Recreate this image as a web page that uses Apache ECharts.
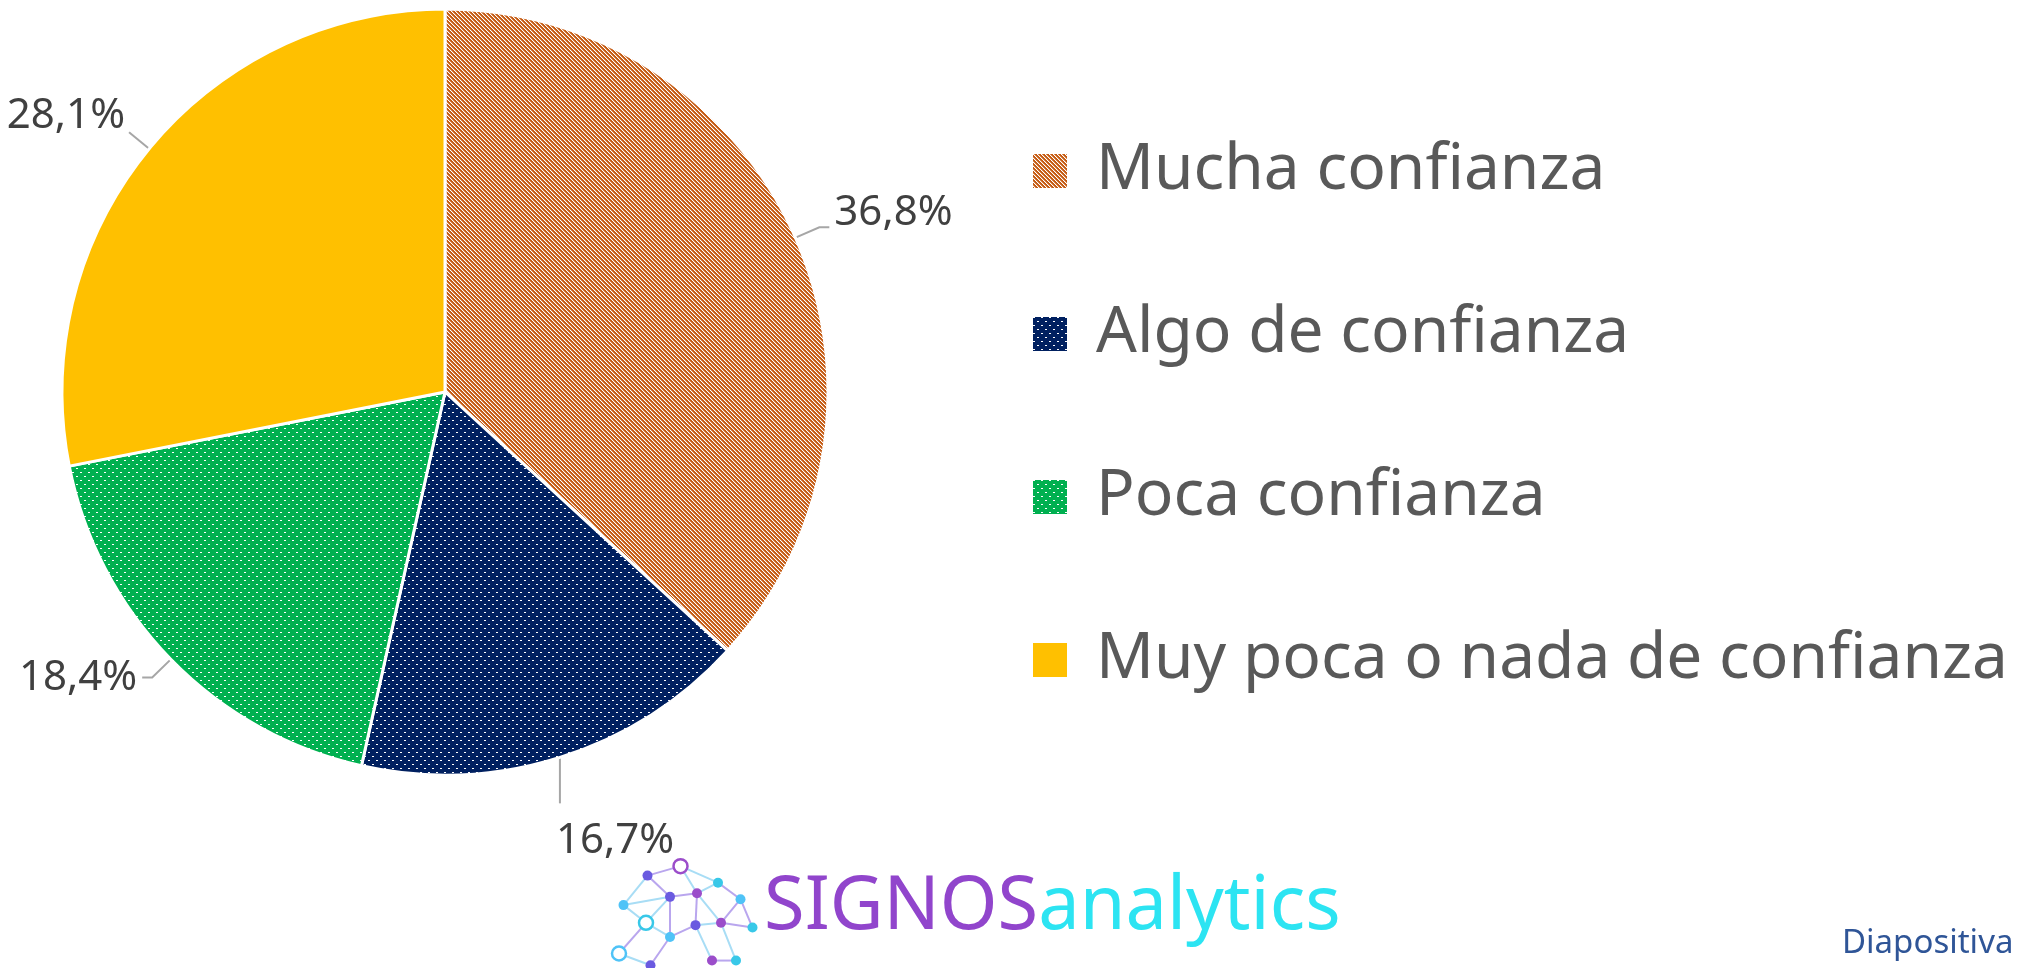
<!DOCTYPE html>
<html>
<head>
<meta charset="utf-8">
<script src="https://cdn.jsdelivr.net/npm/echarts@6/dist/echarts.min.js"></script>
<style>
  html, body { margin: 0; padding: 0; background: #fff; }
  #chart { width: 2030px; height: 968px; }
</style>
</head>
<body>
<div id="chart"></div>
<script>
const categories = ['Mucha confianza', 'Algo de confianza', 'Poca confianza', 'Muy poca o nada de confianza'];
const shares = [36.8, 16.7, 18.4, 28.1];

// small canvas fills, like the office hatch / dot patterns
function pattern (bg, size, draw) {
  const c = document.createElement('canvas');
  c.width = size; c.height = size;
  const ctx = c.getContext('2d');
  ctx.fillStyle = bg;
  ctx.fillRect(0, 0, size, size);
  ctx.fillStyle = '#ffffff';
  draw(ctx);
  return { image: c, repeat: 'repeat' };
}
const stripes = pattern('#C55A11', 4, ctx => {
  for (let y = 0; y < 4; y++) {
    ctx.fillRect(y % 4, y, 1, 1);
    ctx.globalAlpha = 0.3;
    ctx.fillRect((y + 1) % 4, y, 1, 1);
    ctx.globalAlpha = 1;
  }
});
const dots = bg => pattern(bg, 8, ctx => {
  ctx.fillRect(0, 0, 2, 1);
  ctx.fillRect(4, 4, 2, 1);
});
const fills = [stripes, dots('#002060'), dots('#00B050'), '#FFC000'];

// brain icon of the logo, relative to its box
const nodes = [
  [0.09, 0.45], [0.25, 0.2], [0.47, 0.12], [0.72, 0.26], [0.87, 0.4],
  [0.4, 0.38], [0.58, 0.35], [0.24, 0.6], [0.4, 0.72], [0.57, 0.62],
  [0.74, 0.6], [0.95, 0.64], [0.06, 0.86], [0.27, 0.96], [0.68, 0.92], [0.84, 0.92]
];
const links = [[0,1],[1,2],[2,3],[3,4],[0,5],[1,5],[2,6],[5,6],[3,6],[4,10],[5,7],[6,9],[7,8],[8,9],[9,10],[10,11],[0,7],[7,12],[12,13],[8,13],[9,14],[14,15],[10,15],[4,11],[6,10],[5,8]];
const nodeColors = ['#4FC3F7', '#6A5AE0', '#9B4DCA', '#38C8E8'];
const box = { x: 610, y: 852, w: 150, h: 118 };
const brain = [];
links.forEach(([a, b], i) => {
  brain.push({
    type: 'line',
    shape: { x1: box.x + nodes[a][0] * box.w, y1: box.y + nodes[a][1] * box.h, x2: box.x + nodes[b][0] * box.w, y2: box.y + nodes[b][1] * box.h },
    style: { stroke: i % 2 ? '#B9A6EE' : '#A8DDF5', lineWidth: 2 }
  });
});
nodes.forEach((n, i) => {
  const hollow = i % 5 === 2;
  brain.push({
    type: 'circle',
    shape: { cx: box.x + n[0] * box.w, cy: box.y + n[1] * box.h, r: hollow ? 7 : 5 },
    style: hollow ? { fill: '#fff', stroke: nodeColors[i % 4], lineWidth: 2.5 } : { fill: nodeColors[i % 4] }
  });
});

const myChart = echarts.init(document.getElementById('chart'));
const option = {
  backgroundColor: '#ffffff',
  animation: false,
  legend: {
    orient: 'vertical',
    left: 1028,
    top: 126,
    itemWidth: 34,
    itemHeight: 34,
    itemGap: 83,
    selectedMode: false,
    icon: 'rect',
    itemStyle: { borderWidth: 0 },
    textStyle: {
      fontFamily: 'Noto Sans',
      fontSize: 64,
      lineHeight: 80,
      color: '#595959',
      padding: [0, 0, 0, 24]
    },
    data: categories
  },
  series: [
    {
      type: 'pie',
      center: [445, 392],
      radius: 383,
      startAngle: 90,
      clockwise: true,
      avoidLabelOverlap: false,
      itemStyle: { borderColor: '#ffffff', borderWidth: 3 },
      label: {
        show: true,
        overflow: 'none',
        formatter: p => p.value.toFixed(1).replace('.', ',') + '%',
        fontFamily: 'Noto Sans',
        fontSize: 42,
        color: '#404040'
      },
      labelLine: {
        show: true,
        length: 26,
        length2: 10,
        smooth: false,
        lineStyle: { color: '#A6A6A6', width: 2 }
      },
      // leaders placed like the slide: top-right label sits a bit above its line,
      // bottom label hangs under a vertical leader, top-left one has no elbow
      labelLayout: params => {
        const pts = params.labelLinePoints;
        if (!pts) return {};
        const p0 = pts[0], p1 = pts[1];
        if (params.dataIndex === 0) return { dy: -14 };
        if (params.dataIndex === 1) {
          const end = [p0[0], p0[1] + 46];
          return {
            x: p0[0] - 4,
            y: p0[1] + 84,
            align: 'left',
            verticalAlign: 'middle',
            labelLinePoints: [p0, end, end]
          };
        }
        if (params.dataIndex === 2) return {};
        return {
          x: p1[0] - 4,
          y: p1[1] - 16,
          align: 'right',
          verticalAlign: 'middle',
          labelLinePoints: [p0, p1, p1]
        };
      },
      emphasis: { disabled: true },
      data: categories.map((name, i) => ({
        name: name,
        value: shares[i],
        itemStyle: { color: fills[i] }
      }))
    }
  ],
  graphic: [
    { type: 'group', children: brain },
    {
      type: 'text',
      x: 764,
      y: 908,
      style: {
        text: '{a|SIGNOS}{b|analytics}',
        verticalAlign: 'middle',
        rich: {
          a: { fontFamily: 'Noto Sans', fontSize: 74, fill: '#9145CC' },
          b: { fontFamily: 'Noto Sans', fontSize: 74, fill: '#2CE4F2' }
        }
      }
    },
    {
      type: 'text',
      x: 1842,
      y: 944,
      style: {
        text: 'Diapositiva',
        verticalAlign: 'middle',
        fontFamily: 'Noto Sans',
        fontSize: 33,
        fill: '#2F5597'
      }
    }
  ]
};
option && myChart.setOption(option);
</script>
</body>
</html>
